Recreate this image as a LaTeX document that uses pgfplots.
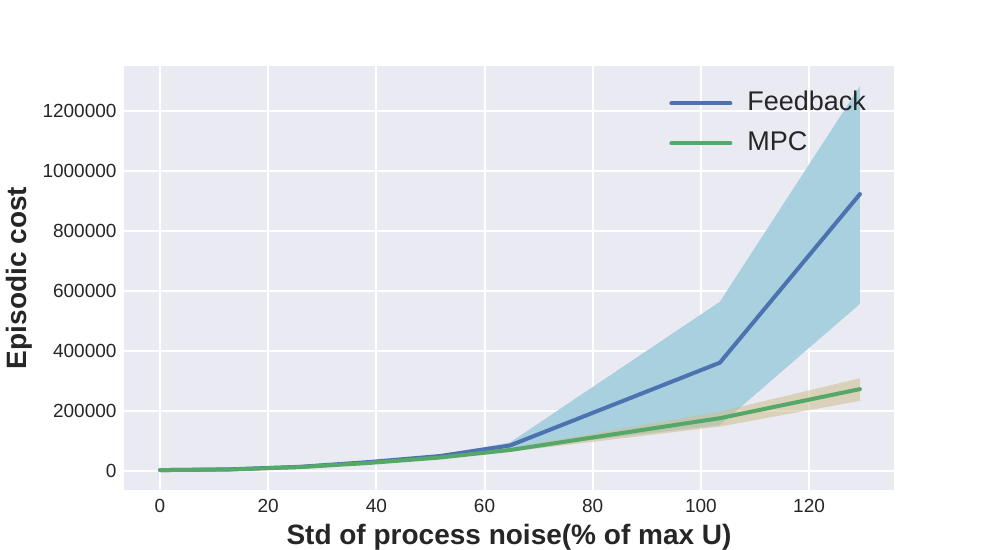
\documentclass[border=0pt]{standalone}
\usepackage{pgfplots}
\pgfplotsset{compat=1.18}
\usepackage{pgfplotstable}
\usepackage{fontspec}
\setmainfont{Liberation Sans}
\definecolor{sbbg}{HTML}{EAEAF2}
\definecolor{sbblue}{HTML}{4C72B0}
\definecolor{sbgreen}{HTML}{55A868}
\definecolor{bandblue}{RGB}{168,208,223}
\definecolor{bandtan}{RGB}{205,190,140}

\pgfplotstableread{
x      fm      mm
0      3000    3000
12.9   5500    5000
25.9   14000   13000
38.8   30000   27000
51.8   50000   45000
64.7   85000   70000
103.5  361000  176000
129.4  923000  273000
}\data

\begin{document}
\begin{tikzpicture}
\path[use as bounding box] (-124bp,-60bp) rectangle (870bp,490bp);
\begin{axis}[
  at={(0bp,0bp)}, anchor=south west,
  scale only axis, width=770bp, height=424bp,
  xmin=-6.66, xmax=135.7,
  ymin=-63333, ymax=1350000,
  axis background/.style={fill=sbbg},
  axis line style={draw=none},
  major tick length=0pt,
  grid=major,
  major grid style={white, line width=2bp},
  xtick={0,20,40,60,80,100,120},
  ytick={0,200000,400000,600000,800000,1000000,1200000},
  scaled y ticks=false,
  /pgf/number format/assume math mode=true,
  yticklabel={\pgfmathprintnumber[fixed,1000 sep={}]{\tick}},
  xticklabel={\pgfmathprintnumber[fixed]{\tick}},
  ticklabel style={font=\fontsize{19bp}{22bp}\selectfont, text=black!85},
  xticklabel style={yshift=-6bp},
  yticklabel style={xshift=-4bp},
  xlabel={\textbf{Std of process noise(\% of max U)}},
  ylabel={\textbf{Episodic cost}},
  label style={font=\fontsize{28bp}{32bp}\selectfont, text=black!85},
  xlabel style={yshift=-4bp},
  ylabel style={yshift=3bp},
  legend cell align=left,
  legend style={at={(rel axis cs:0.708,0.943)}, anchor=north west,
    draw=none, fill=none, inner sep=0pt,
    font=\fontsize{27bp}{30bp}\selectfont, text=black!85,
    row sep=14bp,
    nodes={inner sep=0pt, text height=20bp, text depth=6bp},
    /tikz/every odd column/.append style={column sep=15bp}},
  legend image code/.code={\draw[#1, line width=4bp, line cap=round] (0bp,0bp) -- (59bp,0bp);},
]
\addplot[fill=bandblue, draw=none, forget plot] coordinates {
 (0,3000) (12.9,6000) (25.9,15000) (38.8,32000) (51.8,54000) (64.7,95000) (103.5,564000) (129.4,1283000)
 (129.4,557000) (103.5,153000) (64.7,72000) (51.8,46000) (38.8,28000) (25.9,13000) (12.9,5000) (0,3000)
} -- cycle;
\addplot[sbblue, line width=4bp, line cap=round, line join=round] table[x=x,y=fm]{\data};
\addlegendentry{Feedback}
\addplot[fill=bandtan, fill opacity=0.55, draw=none, forget plot] coordinates {
 (0,3000) (12.9,5500) (25.9,14000) (38.8,29000) (51.8,48000) (64.7,76000) (103.5,198000) (129.4,309000)
 (129.4,234000) (103.5,148000) (64.7,64000) (51.8,42000) (38.8,25000) (25.9,12000) (12.9,4500) (0,3000)
} -- cycle;
\addplot[sbgreen, line width=4bp, line cap=round, line join=round] table[x=x,y=mm]{\data};
\addlegendentry{MPC}
\end{axis}
\end{tikzpicture}
\end{document}
